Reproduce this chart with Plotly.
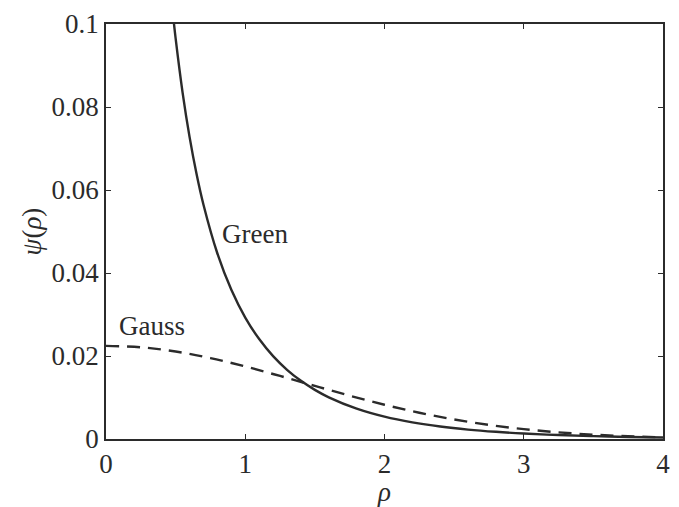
import plotly.graph_objects as go

# Green-function profile psi(rho), sampled along rho
green_rho = [0.48, 0.5, 0.55, 0.6, 0.65, 0.7, 0.8, 0.9, 1.0, 1.1, 1.2, 1.3, 1.4,
             1.5, 1.6, 1.8, 2.0, 2.2, 2.4, 2.6, 2.8, 3.0, 3.25, 3.5, 3.75, 4.0]
green_psi = [0.10259, 0.09653, 0.08348, 0.07279, 0.06391, 0.05645, 0.04470,
             0.03595, 0.02927, 0.02408, 0.01997, 0.01668, 0.01402, 0.01184,
             0.01004, 0.00731, 0.00538, 0.00401, 0.00301, 0.00227, 0.00173,
             0.00132, 0.00095, 0.00069, 0.00050, 0.00036]

# Gaussian profile psi(rho)
gauss_rho = [0, 0.25, 0.5, 0.75, 1.0, 1.25, 1.5, 1.75, 2.0, 2.25, 2.5, 2.75,
             3.0, 3.25, 3.5, 3.75, 4.0]
gauss_psi = [0.02245, 0.02210, 0.02109, 0.01950, 0.01748, 0.01519, 0.01279,
             0.01044, 0.00826, 0.00633, 0.00471, 0.00339, 0.00237, 0.00160,
             0.00105, 0.00067, 0.00041]

x_ticks = [0, 1, 2, 3, 4]
y_ticks = [0, 0.02, 0.04, 0.06, 0.08, 0.1]
y_tick_text = ["0", "0.02", "0.04", "0.06", "0.08", "0.1"]

ink = "#2b2b2b"
serif = "Liberation Serif, Times New Roman, serif"
fs = 27

fig = go.Figure()
fig.add_trace(go.Scatter(x=green_rho, y=green_psi, mode="lines",
                         line=dict(color=ink, width=2.4, shape="spline"),
                         showlegend=False))
fig.add_trace(go.Scatter(x=gauss_rho, y=gauss_psi, mode="lines",
                         line=dict(color=ink, width=2.4, dash="13px,8px", shape="spline"),
                         showlegend=False))

fig.add_annotation(x=1.07, y=0.0495, text="Green", showarrow=False,
                   font=dict(family=serif, size=fs, color=ink))
fig.add_annotation(x=0.33, y=0.0272, text="Gauss", showarrow=False,
                   font=dict(family=serif, size=fs, color=ink))

axis_common = dict(showline=True, linecolor=ink, linewidth=1.5, mirror="ticks",
                   ticks="inside", ticklen=5, tickwidth=1.2, tickcolor=ink,
                   showgrid=False, zeroline=False,
                   tickfont=dict(family=serif, size=fs, color=ink))

fig.update_xaxes(range=[0, 4], tickvals=x_ticks, ticktext=[str(v) for v in x_ticks],
                 title=dict(text="<i>ρ</i>", font=dict(family=serif, size=fs, color=ink),
                            standoff=0),
                 **axis_common)
fig.update_yaxes(range=[0, 0.1], tickvals=y_ticks, ticktext=y_tick_text,
                 title=dict(text="<i>ψ</i>(<i>ρ</i>)", font=dict(family=serif, size=fs, color=ink),
                            standoff=2),
                 **axis_common)

fig.update_layout(width=679, height=507, plot_bgcolor="white", paper_bgcolor="white",
                  margin=dict(l=106, r=9, t=15, b=66))

fig.write_html("out.html")
